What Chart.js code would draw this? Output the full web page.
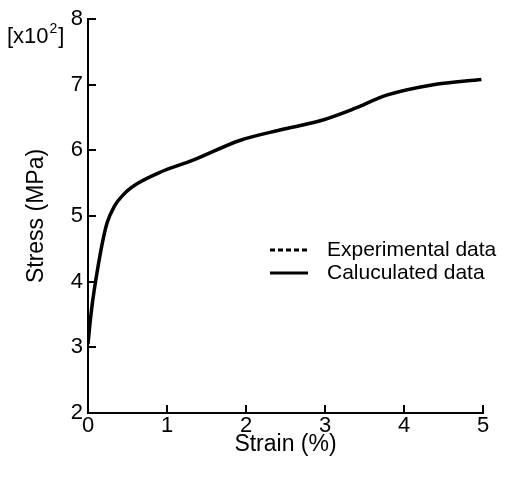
<!DOCTYPE html>
<html>
<head>
<meta charset="utf-8">
<script src="https://cdn.jsdelivr.net/npm/chart.js@4/dist/chart.umd.min.js"></script>
<style>
  html, body { margin: 0; padding: 0; background: #fff; }
  #wrap { width: 515px; height: 477px; position: relative; }
</style>
</head>
<body>
<div id="wrap"><canvas id="c" width="515" height="477"></canvas></div>
<script>
// ---- data ----
const strain = [0, 0.02, 0.055, 0.12, 0.18, 0.24, 0.33, 0.46, 0.62, 0.92, 1.33, 1.92, 2.43, 2.94, 3.36, 3.78, 4.37, 4.98];
const calculatedStress = [3.05, 3.3, 3.67, 4.18, 4.58, 4.89, 5.14, 5.34, 5.49, 5.67, 5.85, 6.15, 6.31, 6.45, 6.63, 6.84, 7.0, 7.08];
const experimentalStress = [3.05, 3.3, 3.67, 4.18, 4.58, 4.89, 5.14, 5.34, 5.49, 5.67, 5.85, 6.15, 6.31, 6.45, 6.63, 6.84, 7.0, 7.08];
const seriesLabels = ['Experimental data', 'Caluculated data'];
const xTicks = [0, 1, 2, 3, 4, 5];
const yTicks = [2, 3, 4, 5, 6, 7, 8];
const xTitle = 'Strain (%)';
const yTitle = 'Stress (MPa)';
const yMultiplier = ['[x10', '2', ']'];

const FONT = '"Liberation Sans", Arial, Helvetica, sans-serif';

const pts = (xs, ys) => xs.map((x, i) => ({ x: x, y: ys[i] }));

const innerTicks = {
  id: 'innerTicks',
  afterDraw(chart) {
    const ctx = chart.ctx;
    const xs = chart.scales.x, ys = chart.scales.y;
    const area = chart.chartArea;
    ctx.save();
    ctx.strokeStyle = '#000';
    ctx.lineWidth = 2;
    ctx.beginPath();
    xTicks.forEach(v => {
      const px = Math.round(xs.getPixelForValue(v));
      ctx.moveTo(px, area.bottom);
      ctx.lineTo(px, area.bottom - 8);
    });
    yTicks.forEach(v => {
      const py = Math.round(ys.getPixelForValue(v));
      ctx.moveTo(area.left, py);
      ctx.lineTo(area.left + 8, py);
    });
    ctx.stroke();

    // multiplier label
    ctx.fillStyle = '#000';
    ctx.textBaseline = 'alphabetic';
    ctx.textAlign = 'left';
    ctx.font = '22px ' + FONT;
    let x = 7;
    const base = 43;
    ctx.fillText(yMultiplier[0], x, base);
    x += ctx.measureText(yMultiplier[0]).width;
    ctx.font = '14px ' + FONT;
    ctx.fillText(yMultiplier[1], x + 1, base - 10);
    x += ctx.measureText(yMultiplier[1]).width + 2;
    ctx.font = '22px ' + FONT;
    ctx.fillText(yMultiplier[2], x, base);

    // legend
    const rows = [250, 273];
    chart.data.datasets.forEach((ds, i) => {
      const y = rows[i];
      ctx.strokeStyle = '#000';
      ctx.lineWidth = 3;
      ctx.setLineDash(ds.borderDash && ds.borderDash.length ? [5, 3] : []);
      ctx.beginPath();
      ctx.moveTo(270, y);
      ctx.lineTo(308, y);
      ctx.stroke();
      ctx.setLineDash([]);
      ctx.font = '21px ' + FONT;
      ctx.textBaseline = 'middle';
      ctx.fillText(ds.label, 327, y);
    });
    ctx.restore();
  }
};

new Chart(document.getElementById('c'), {
  type: 'scatter',
  data: {
    datasets: [
      {
        label: seriesLabels[0],
        data: pts(strain, experimentalStress),
        showLine: true,
        borderColor: '#000',
        borderWidth: 2,
        borderDash: [5, 3],
        pointRadius: 0,
        cubicInterpolationMode: 'monotone'
      },
      {
        label: seriesLabels[1],
        data: pts(strain, calculatedStress),
        showLine: true,
        borderColor: '#000',
        borderWidth: 3.5,
        pointRadius: 0,
        cubicInterpolationMode: 'monotone'
      }
    ]
  },
  options: {
    responsive: false,
    animation: false,
    layout: { padding: { left: 0, right: 32, top: 19, bottom: 0 }, autoPadding: false },
    plugins: { legend: { display: false }, tooltip: { enabled: false } },
    scales: {
      x: {
        type: 'linear',
        min: 0, max: 5,
        afterFit(s) { s.height = 64; },
        afterBuildTicks(s) { s.ticks = xTicks.map(v => ({ value: v })); },
        grid: { display: false, drawTicks: false },
        border: { display: true, color: '#000', width: 2 },
        ticks: { color: '#000', font: { family: FONT, size: 22 }, padding: 0, maxRotation: 0 },
        title: { display: true, text: xTitle, color: '#000', font: { family: FONT, size: 23 }, padding: { top: 0, bottom: 19 } }
      },
      y: {
        type: 'linear',
        min: 2, max: 8,
        afterFit(s) { s.width = 88; },
        afterBuildTicks(s) { s.ticks = yTicks.map(v => ({ value: v })); },
        grid: { display: false, drawTicks: false },
        border: { display: true, color: '#000', width: 2 },
        ticks: { color: '#000', font: { family: FONT, size: 22 }, padding: 5 },
        title: { display: true, text: yTitle, color: '#000', font: { family: FONT, size: 23 }, padding: { top: 23, bottom: 0 } }
      }
    }
  },
  plugins: [innerTicks]
});
</script>
</body>
</html>
